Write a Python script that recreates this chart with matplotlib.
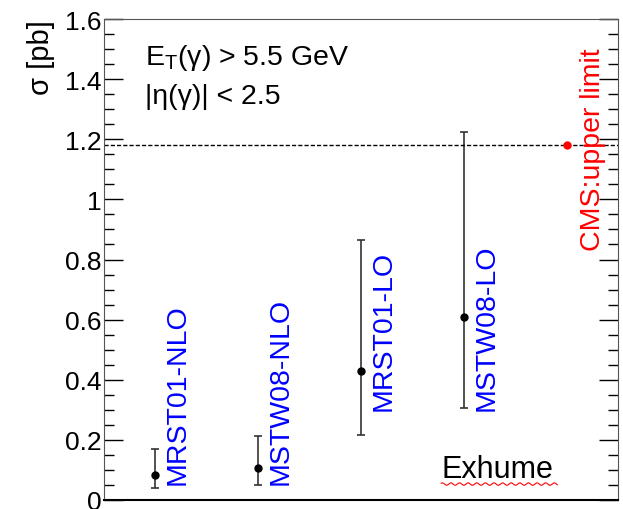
import numpy as np
import matplotlib
matplotlib.use("Agg")
import matplotlib.pyplot as plt

plt.rcParams['font.family'] = ['Liberation Sans', 'DejaVu Sans']

# values
models = ["MRST01-NLO", "MSTW08-NLO", "MRST01-LO", "MSTW08-LO"]
sigma = [0.083, 0.106, 0.43, 0.609]
err_lo = [0.04, 0.05, 0.216, 0.306]
err_hi = [0.17, 0.213, 0.865, 1.224]
label_base = [0.052, 0.052, 0.30, 0.30]
cms_limit = 1.18

fig = plt.figure(figsize=(6.23, 5.10), dpi=100)
ax = fig.add_axes([104/623, 9/510, 514/623, 481/510])

xpos = np.arange(1, len(models) + 1)
yerr = [np.array(sigma) - np.array(err_lo), np.array(err_hi) - np.array(sigma)]
ax.errorbar(xpos, sigma, yerr=yerr, fmt='o', color='black', ms=5,
            elinewidth=1.2, capsize=3, capthick=1.2, ecolor='#333333')

for x, name, yb in zip(xpos, models, label_base):
    ax.text(x + 0.22, yb, name, rotation=90, color='blue', fontsize=20.5,
            ha='center', va='bottom')

ax.axhline(cms_limit, color='black', lw=1, ls=(0, (3, 1.5)))
ax.plot([5], [cms_limit], 'o', color='red', ms=5)
ax.text(5.26, 0.83, "CMS:upper limit", rotation=90, color='red', fontsize=20.5,
        ha='center', va='bottom')

ax.text(0.9, 1.474, "E$_\\mathregular{T}$(γ) > 5.5 GeV", fontsize=20.5, va='center')
ax.text(0.9, 1.344, "|η(γ)| < 2.5", fontsize=20.5, va='center')

ax.text(3.78, 0.077, "Exhume", fontsize=22, va='baseline')
wx = np.linspace(3.78, 4.91, 300)
ax.plot(wx, 0.053 + 0.004 * np.sin(wx * 75), color='red', lw=0.8)

ax.set_xlim(0.5, 5.5)
ax.set_ylim(0, 1.6)
ax.set_yticks(np.arange(0, 1.61, 0.2))
ax.set_yticklabels(["0", "0.2", "0.4", "0.6", "0.8", "1", "1.2", "1.4", "1.6"])
ax.set_yticks(np.arange(0, 1.61, 0.05), minor=True)
ax.set_xticks([])
ax.tick_params(axis='y', which='both', direction='in', right=True, labelsize=19, pad=2)
ax.tick_params(axis='y', which='major', length=14, width=1)
ax.tick_params(axis='y', which='minor', length=7, width=1)
ax.text(-0.123, 1.0, "σ [pb]", rotation=90, fontsize=21, ha='center', va='top',
        transform=ax.transAxes)
for s in ax.spines.values():
    s.set_color('#555555')
ax.spines['bottom'].set_color('black')
ax.spines['bottom'].set_linewidth(1.5)

fig.savefig("out.png", dpi=100)
